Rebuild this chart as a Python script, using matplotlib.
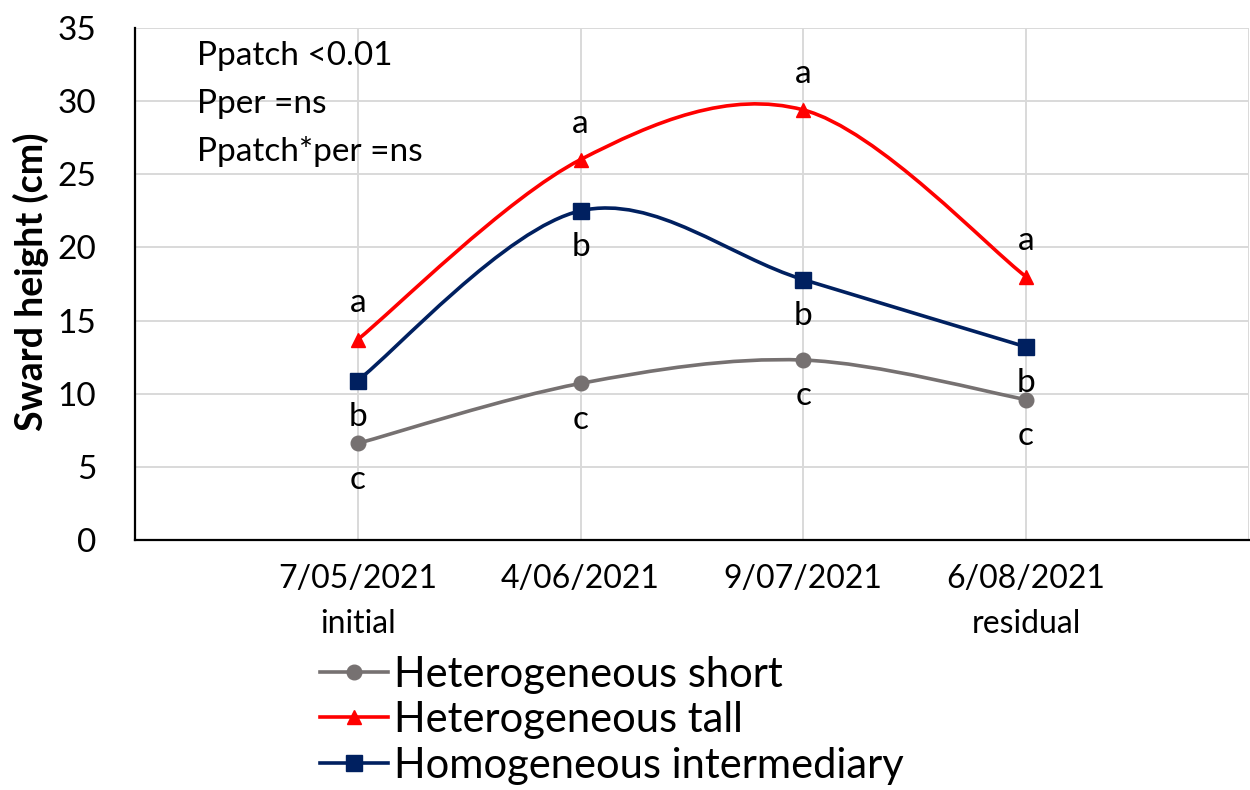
import matplotlib
matplotlib.use("Agg")
import matplotlib.pyplot as plt
from matplotlib.path import Path
from matplotlib.patches import PathPatch
from matplotlib.lines import Line2D
import numpy as np

# ---- data ----
dates = ["7/05/2021\ninitial", "4/06/2021", "9/07/2021", "6/08/2021\nresidual"]
het_short = [6.6, 10.7, 12.3, 9.6]
het_tall = [13.7, 26.0, 29.4, 18.0]
hom_inter = [10.9, 22.5, 17.8, 13.2]
letters_short = ["c", "c", "c", "c"]
letters_tall = ["a", "a", "a", "a"]
letters_inter = ["b", "b", "b", "b"]
series_names = ["Heterogeneous short", "Heterogeneous tall", "Homogeneous intermediary"]
stats_text = ["Ppatch <0.01", "Pper =ns", "Ppatch*per =ns"]
yticks = [0, 5, 10, 15, 20, 25, 30, 35]

FONT = ["Lato", "DejaVu Sans"]
plt.rcParams["font.family"] = FONT

C_SHORT = "#767171"
C_TALL = "#FF0000"
C_INTER = "#002060"


def smooth_path(xs, ys):
    """Excel-like smoothed line: cubic Bezier (Catmull-Rom control points)."""
    pts = np.column_stack([xs, ys]).astype(float)
    n = len(pts)
    verts = [pts[0]]
    codes = [Path.MOVETO]
    for i in range(n - 1):
        p0 = pts[i - 1] if i > 0 else pts[i]
        p1 = pts[i]
        p2 = pts[i + 1]
        p3 = pts[i + 2] if i + 2 < n else pts[i + 1]
        c1 = p1 + (p2 - p0) / 6.0
        c2 = p2 - (p3 - p1) / 6.0
        verts += [c1, c2, p2]
        codes += [Path.CURVE4] * 3
    return Path(verts, codes)


fig = plt.figure(figsize=(12.5, 7.9), dpi=100)
ax = fig.add_axes([0.108, 0.3165, 0.891, 0.6481])

x = np.arange(1, len(dates) + 1)

series = [
    (het_short, C_SHORT, "o", 10.5, letters_short, -1),
    (het_tall, C_TALL, "^", 10.5, letters_tall, 1),
    (hom_inter, C_INTER, "s", 11, letters_inter, -1),
]

handles = []
for (vals, col, mk, ms, lets, side), name in zip(series, series_names):
    patch = PathPatch(smooth_path(x, vals), facecolor="none", edgecolor=col,
                      lw=2.6, zorder=3, capstyle="round")
    ax.add_patch(patch)
    ax.plot(x, vals, linestyle="none", marker=mk, markersize=ms,
            color=col, markeredgecolor=col, zorder=4, clip_on=False)
    for xi, yi, lt in zip(x, vals, lets):
        ax.annotate(lt, (xi, yi), xytext=(0, 26 * side), textcoords="offset points",
                    ha="center", va="center", fontsize=24, color="black", zorder=5)
    handles.append(Line2D([0], [0], color=col, lw=2.6, marker=mk, markersize=ms,
                          markeredgecolor=col))

ax.set_xlim(0, len(dates) + 1)
ax.set_ylim(0, 35)
ax.set_yticks(yticks)
ax.set_yticklabels([str(v) for v in yticks], fontsize=24)
ax.set_xticks(x)
ax.set_xticklabels(dates, fontsize=23, linespacing=1.65)
ax.tick_params(axis="both", length=0)
ax.tick_params(axis="y", pad=28)
ax.tick_params(axis="x", pad=17)

# grid
for yv in yticks[1:]:
    ax.axhline(yv, color="#D9D9D9", lw=1.4, zorder=1)
for xv in list(x) + [len(dates) + 1]:
    ax.axvline(xv, color="#D9D9D9", lw=1.4, zorder=1)

for s in ["top", "right"]:
    ax.spines[s].set_visible(False)
ax.spines["left"].set_color("black")
ax.spines["bottom"].set_color("black")
ax.spines["left"].set_linewidth(1.6)
ax.spines["bottom"].set_linewidth(1.6)
ax.spines["left"].set_zorder(2)

ax.set_ylabel("Sward height (cm)", fontsize=27, fontweight="bold")
ax.yaxis.set_label_coords(-0.077, 0.505)

for i, t in enumerate(stats_text):
    ax.text(0.056, 0.945 - i * 0.093, t, transform=ax.transAxes, fontsize=24,
            ha="left", va="center")

leg = fig.legend(handles, series_names, loc="center left",
                 bbox_to_anchor=(0.256, 0.0886), frameon=False, fontsize=30,
                 handlelength=1.63, handletextpad=0.15, labelspacing=0.18,
                 borderaxespad=0, borderpad=0)

fig.savefig("out.png", dpi=100)
